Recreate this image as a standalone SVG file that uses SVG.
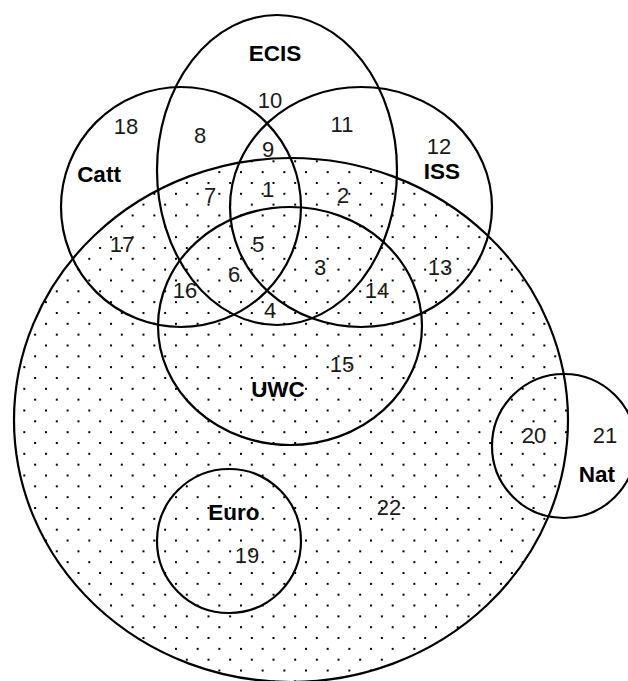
<svg xmlns="http://www.w3.org/2000/svg" width="628" height="681" viewBox="0 0 628 681">
<style>
.set{fill:none;stroke:#000;stroke-width:2.2}
.lbl{font-family:"Liberation Sans",Arial,sans-serif;font-weight:bold;font-size:22.5px;text-anchor:middle;fill:#000}
.num{font-family:"Liberation Sans",Arial,sans-serif;font-size:22px;text-anchor:middle;fill:#1a1a1a}
</style>
<defs>
<pattern id="dots" patternUnits="userSpaceOnUse" x="1.63" y="19.44" width="21.67" height="21.67">
<rect x="0" y="0" width="2" height="2" fill="#000"/>
<rect x="10.83" y="10.83" width="2" height="2" fill="#000"/>
</pattern>
</defs>
<rect width="628" height="681" fill="#fff"/>
<g id="All">
<ellipse cx="291" cy="420" rx="277" ry="262" fill="url(#dots)" stroke="#000" stroke-width="2.2"/>
<text class="num" x="389" y="515">22</text>
</g>
<g id="ECIS">
<ellipse class="set" cx="277" cy="170" rx="120" ry="155"/>
<text class="lbl" x="275" y="61">ECIS</text>
<text class="num" x="270" y="108">10</text>
</g>
<g id="Catt">
<ellipse class="set" cx="181" cy="207" rx="120" ry="120"/>
<text class="lbl" x="99" y="182">Catt</text>
<text class="num" x="126" y="134">18</text>
</g>
<g id="ISS">
<ellipse class="set" cx="361" cy="207" rx="131" ry="120"/>
<text class="lbl" x="442" y="179">ISS</text>
<text class="num" x="439" y="154">12</text>
</g>
<g id="UWC">
<ellipse class="set" cx="290" cy="326" rx="132" ry="119"/>
<text class="lbl" x="278" y="397">UWC</text>
<text class="num" x="342" y="372">15</text>
</g>
<g id="Nat">
<circle class="set" cx="564" cy="446" r="72"/>
<text class="lbl" x="597" y="482">Nat</text>
<text class="num" x="534" y="443">20</text>
<text class="num" x="605" y="443">21</text>
</g>
<g id="Euro">
<circle class="set" cx="229" cy="541" r="72"/>
<text class="lbl" x="234" y="520">Euro</text>
<text class="num" x="247" y="563">19</text>
</g>
<g id="regions">
<text class="num" x="268" y="197">1</text>
<text class="num" x="343" y="203">2</text>
<text class="num" x="320" y="275">3</text>
<text class="num" x="270" y="318">4</text>
<text class="num" x="258" y="252">5</text>
<text class="num" x="234" y="282">6</text>
<text class="num" x="210" y="203">7</text>
<text class="num" x="200" y="143">8</text>
<text class="num" x="268" y="157">9</text>
<text class="num" x="342" y="132">11</text>
<text class="num" x="440" y="275">13</text>
<text class="num" x="377" y="298">14</text>
<text class="num" x="185" y="298">16</text>
<text class="num" x="122" y="252">17</text>
</g>
</svg>
